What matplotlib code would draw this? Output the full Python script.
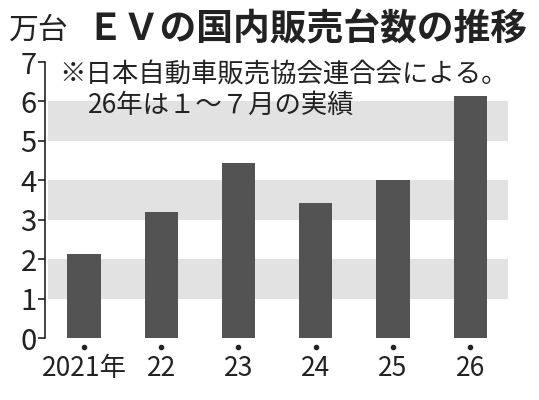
import matplotlib.pyplot as plt
import numpy as np

plt.rcParams['font.family'] = ['Noto Sans CJK JP', 'DejaVu Sans']

years = ['2021年', '22', '23', '24', '25', '26']
sales = [2.13, 3.19, 4.43, 3.42, 4.0, 6.15]   # 万台
yticks = [0, 1, 2, 3, 4, 5, 6, 7]
bands = [(1, 2), (3, 4), (5, 6)]

fig = plt.figure(figsize=(5.39, 4.0), dpi=100)
ax = fig.add_axes([0.0835, 0.155, 0.859, 0.69])

x = np.arange(len(years))
for lo, hi in bands:
    ax.axhspan(lo, hi, xmin=0.006, xmax=1, color='#e2e2e2', lw=0, zorder=0)
ax.bar(x, sales, width=0.43, color='#535353', zorder=2)

# small dots under each bar
ax.plot(x, [-0.23] * len(x), 'o', color='#222222', ms=3, clip_on=False)

ax.set_xlim(-0.505, 5.49)
ax.set_ylim(0, 7)
ax.set_yticks(yticks)
ax.set_yticklabels([str(v) for v in yticks], fontsize=21, color='#222222')
ax.tick_params(axis='y', length=5, width=1.2, pad=1, color='#222222')
ax.set_xticks(x)
ax.set_xticklabels(years, fontsize=19, color='#222222')
ax.tick_params(axis='x', length=0, pad=12)
for s in ['top', 'right', 'bottom']:
    ax.spines[s].set_visible(False)
ax.spines['left'].set_linewidth(1.2)
ax.spines['left'].set_color('#222222')

fig.text(0.016, 0.925, '万台', fontsize=21.5, color='#222222', va='center')
fig.text(0.16, 0.925, 'ＥＶの国内販売台数の推移', fontsize=26.5, fontweight='bold',
         color='#222222', va='center')
fig.text(0.11, 0.812, '※日本自動車販売協会連合会による。', fontsize=19,
         color='#222222', va='center')
fig.text(0.163, 0.737, '26年は１～７月の実績', fontsize=19,
         color='#222222', va='center')

fig.savefig('out.png', dpi=100)
